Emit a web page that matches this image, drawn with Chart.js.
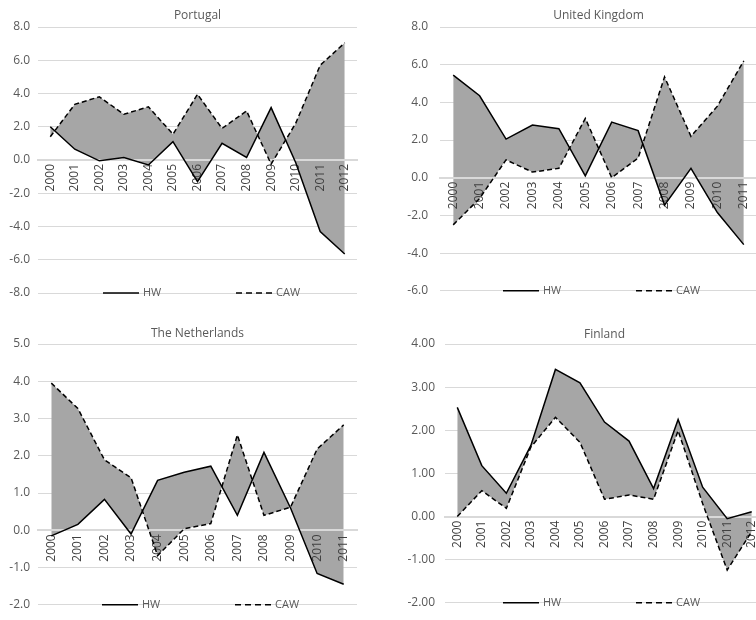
<!DOCTYPE html>
<html>
<head>
<meta charset="utf-8">
<script src="https://cdn.jsdelivr.net/npm/chart.js@4.4.0/dist/chart.umd.min.js"></script>
<style>
  html, body { margin: 0; padding: 0; background: #fff; overflow: hidden; }
  #wrap { position: relative; width: 756px; height: 620px; overflow: hidden; }
  canvas { position: absolute; }
</style>
</head>
<body>
<div id="wrap">
  <canvas id="ptChart" width="378" height="310" style="left:0;top:0"></canvas>
  <canvas id="ukChart" width="384" height="310" style="left:378px;top:0"></canvas>
  <canvas id="nlChart" width="378" height="310" style="left:0;top:310px"></canvas>
  <canvas id="fiChart" width="392" height="310" style="left:378px;top:310px"></canvas>
</div>
<script>
// --- data ---
const years13 = ["2000", "2001", "2002", "2003", "2004", "2005", "2006", "2007", "2008", "2009", "2010", "2011", "2012"];
const years12 = years13.slice(0, 12);

const ptHW = [2.0, 0.65, -0.05, 0.15, -0.3, 1.1, -1.3, 1.0, 0.15, 3.15, -0.15, -4.3, -5.65];
const ptCAW = [1.4, 3.35, 3.8, 2.75, 3.2, 1.55, 3.95, 1.9, 2.95, -0.25, 2.2, 5.7, 7.05];

const ukHW = [5.45, 4.35, 2.05, 2.8, 2.6, 0.1, 2.95, 2.5, -1.45, 0.5, -1.85, -3.55];
const ukCAW = [-2.5, -1.1, 0.95, 0.3, 0.5, 3.15, 0.0, 1.05, 5.35, 2.2, 3.8, 6.2];

const nlHW = [-0.15, 0.16, 0.83, -0.1, 1.34, 1.56, 1.72, 0.4, 2.09, 0.6, -1.16, -1.45];
const nlCAW = [3.95, 3.27, 1.89, 1.41, -0.68, 0.04, 0.18, 2.56, 0.4, 0.62, 2.18, 2.83];

const fiHW = [2.53, 1.18, 0.54, 1.65, 3.41, 3.1, 2.19, 1.75, 0.65, 2.25, 0.68, -0.05, 0.11];
const fiCAW = [0.0, 0.6, 0.19, 1.61, 2.3, 1.72, 0.4, 0.5, 0.4, 1.99, 0.3, -1.24, -0.35];

const FONT = "'Open Sans', 'Noto Sans', sans-serif";

// legend drawn on the bottom gridline, like the Excel original
const lineLegend = {
  id: "lineLegend",
  afterDraw(chart, args, opts) {
    const ctx = chart.ctx;
    const y = chart.chartArea.bottom;
    ctx.save();
    ctx.font = "11px " + FONT;
    ctx.textBaseline = "middle";
    chart.data.datasets.forEach((ds, i) => {
      const x = opts.x + i * opts.gap;
      ctx.beginPath();
      ctx.setLineDash(ds.borderDash ? [6, 4] : []);
      ctx.strokeStyle = "#000";
      ctx.lineWidth = 1.5;
      ctx.moveTo(x, y);
      ctx.lineTo(x + 36, y);
      ctx.stroke();
      ctx.setLineDash([]);
      ctx.fillStyle = "#595959";
      ctx.fillText(ds.label, x + 40, y);
    });
    ctx.restore();
  },
};

// category axis is hidden from normal drawing; draw its line + year labels
// here so they land above the shaded area but under the HW/CAW lines
const axisOnFill = {
  id: "axisOnFill",
  beforeDatasetsDraw(chart) {
    const sx = chart.scales.x;
    sx.drawGrid(chart.chartArea);
    sx.drawBorder();
    sx.drawLabels(chart.chartArea);
  },
};

function drawPanel(id, title, labels, hw, caw, yMin, yMax, step, dec, o) {
  new Chart(document.getElementById(id), {
    type: "line",
    data: {
      labels: labels,
      datasets: [
        {
          label: "HW",
          data: hw,
          borderColor: "#000",
          borderWidth: 1.5,
          backgroundColor: "#a6a6a6",
          fill: "+1",
          pointRadius: 0,
          tension: 0,
        },
        {
          label: "CAW",
          data: caw,
          borderColor: "#000",
          borderWidth: 1.5,
          borderDash: [5, 3],
          fill: false,
          pointRadius: 0,
          tension: 0,
        },
      ],
    },
    options: {
      responsive: false,
      animation: false,
      layout: { padding: { left: 0, top: 0, right: o.right, bottom: o.bottom } },
      plugins: {
        legend: { display: false },
        tooltip: { enabled: false },
        filler: { drawTime: "beforeDatasetsDraw" },
        title: {
          display: true,
          text: title,
          fullSize: false,
          color: "#595959",
          font: { size: 12, weight: "normal", family: FONT },
          padding: { top: o.titleTop, bottom: o.titleBottom },
        },
        lineLegend: { x: o.legendX, gap: 133 },
      },
      scales: {
        x: {
          display: false,
          position: { y: 0 },
          offset: true,
          grid: { display: false, drawTicks: false },
          border: { display: true, color: "#d9d9d9", width: 2 },
          ticks: {
            color: "#404040",
            font: { size: 12, family: FONT },
            minRotation: 90,
            maxRotation: 90,
            autoSkip: false,
            padding: 4,
          },
        },
        y: {
          min: yMin,
          max: yMax,
          grid: { color: "#d9d9d9", drawTicks: false },
          border: { display: false },
          ticks: {
            stepSize: step,
            color: "#595959",
            font: { size: 12, family: FONT },
            padding: o.tickPad,
            callback: (v) => Number(v).toFixed(dec),
          },
          afterFit: (s) => { s.width = o.axisW; },
        },
      },
    },
    plugins: [axisOnFill, lineLegend],
  });
}

drawPanel("ptChart", "Portugal", years13, ptHW, ptCAW, -8, 8, 2, 1,
  { right: 21, bottom: 17, titleTop: 8, titleBottom: 4.6, axisW: 38, tickPad: 8, legendX: 103 });
drawPanel("ukChart", "United Kingdom", years12, ukHW, ukCAW, -6, 8, 2, 1,
  { right: 5, bottom: 18, titleTop: 8, titleBottom: 4.6, axisW: 62, tickPad: 12, legendX: 125 });
drawPanel("nlChart", "The Netherlands", years12, nlHW, nlCAW, -2, 5, 1, 1,
  { right: 21, bottom: 10, titleTop: 16, titleBottom: 3.6, axisW: 38, tickPad: 8, legendX: 102 });
drawPanel("fiChart", "Finland", years13, fiHW, fiCAW, -2, 4, 1, 2,
  { right: 6, bottom: 9, titleTop: 17, titleBottom: 2.6, axisW: 67, tickPad: 10, legendX: 125 });
</script>
</body>
</html>
